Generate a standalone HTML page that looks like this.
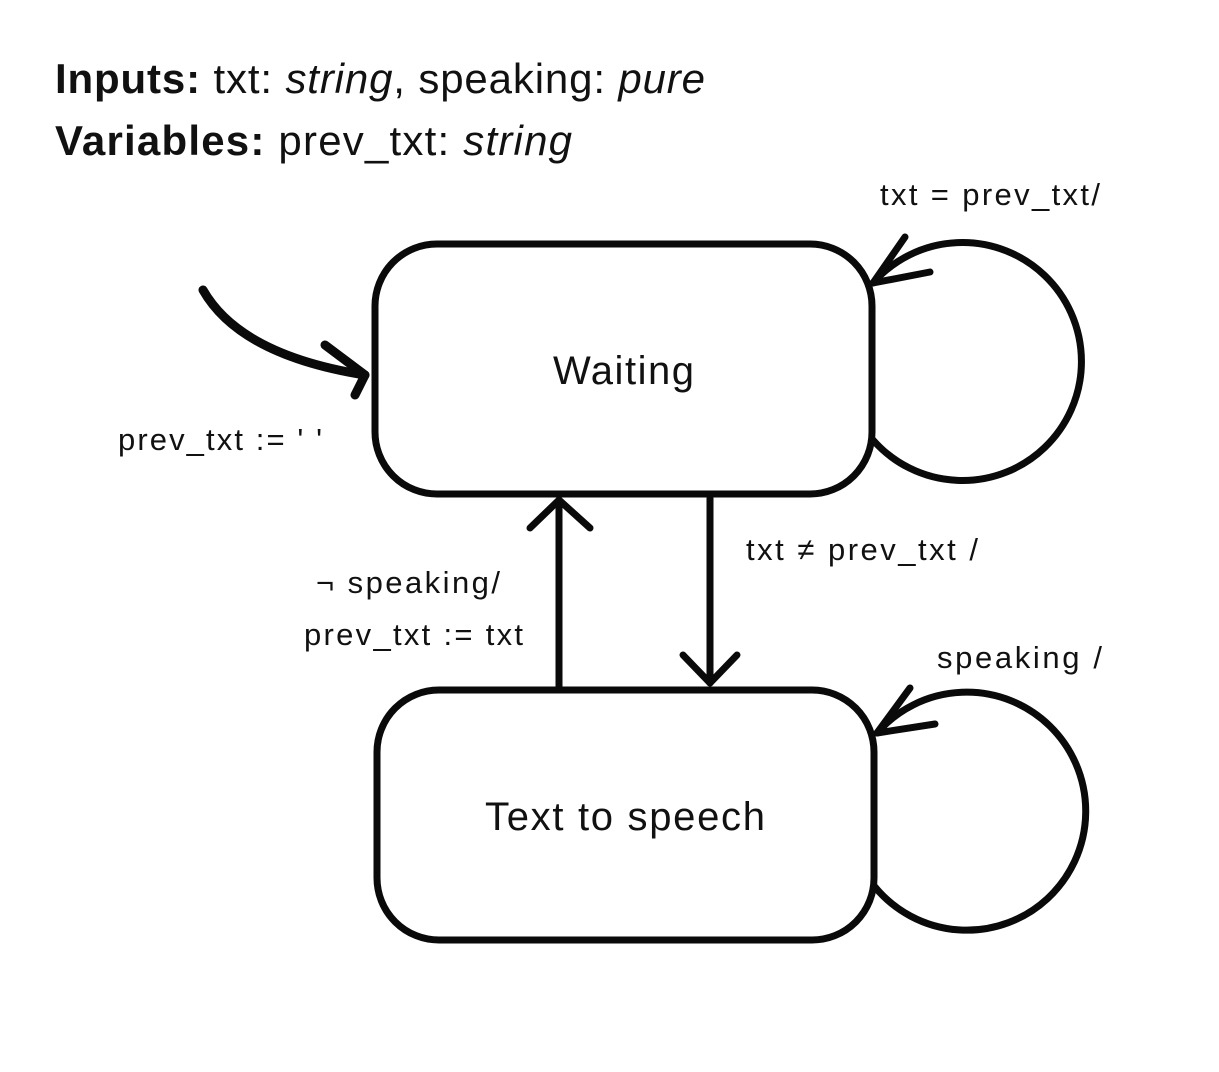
<!DOCTYPE html>
<html><head><style>
body{margin:0;background:#fff;width:1219px;height:1072px;overflow:hidden}
svg{display:block}
text{font-family:"Liberation Sans",sans-serif;fill:#111}
</style></head><body>
<svg width="1219" height="1072" viewBox="0 0 1219 1072">
<text x="55" y="93" font-size="42" textLength="650" lengthAdjust="spacing"><tspan font-weight="bold">Inputs:</tspan> txt: <tspan font-style="italic">string</tspan>, speaking: <tspan font-style="italic">pure</tspan></text>
<text x="55" y="155" font-size="42" textLength="517" lengthAdjust="spacing"><tspan font-weight="bold">Variables:</tspan> prev_txt: <tspan font-style="italic">string</tspan></text>
<g fill="none" stroke="#0a0a0a" stroke-width="7" stroke-linecap="round" stroke-linejoin="round">
<rect x="375" y="244" width="497" height="250" rx="62"/>
<rect x="377" y="690" width="497" height="250" rx="62"/>
<path d="M873,440 A119,119 0 1 0 873,283"/>
<path d="M905,237 L873,283 L930,272"/>
<path d="M875,887 A119,119 0 1 0 877,733"/>
<path d="M910,688 L877,733 L935,724"/>
<path d="M203,290 Q240,355 365,375" stroke-width="9"/>
<path d="M325,345 L365,375 L355,395" stroke-width="9"/>
<path d="M559,688 L559,500"/>
<path d="M530,528 L559,500 L590,528"/>
<path d="M710,498 L710,683"/>
<path d="M683,655 L710,683 L737,655"/>
</g>
<g font-size="40"><text x="553" y="384" textLength="141" lengthAdjust="spacing">Waiting</text><text x="485" y="830" textLength="280" lengthAdjust="spacing">Text to speech</text></g>
<g font-size="31">
<text x="880" y="205" textLength="220" lengthAdjust="spacing">txt = prev_txt/</text>
<text x="118" y="450" textLength="204" lengthAdjust="spacing">prev_txt := ' '</text>
<text x="746" y="560" textLength="232" lengthAdjust="spacing">txt ≠ prev_txt /</text>
<text x="316" y="593" textLength="184" lengthAdjust="spacing">¬ speaking/</text>
<text x="304" y="645" textLength="219" lengthAdjust="spacing">prev_txt := txt</text>
<text x="937" y="668" textLength="165" lengthAdjust="spacing">speaking /</text>
</g>
</svg>
</body></html>
